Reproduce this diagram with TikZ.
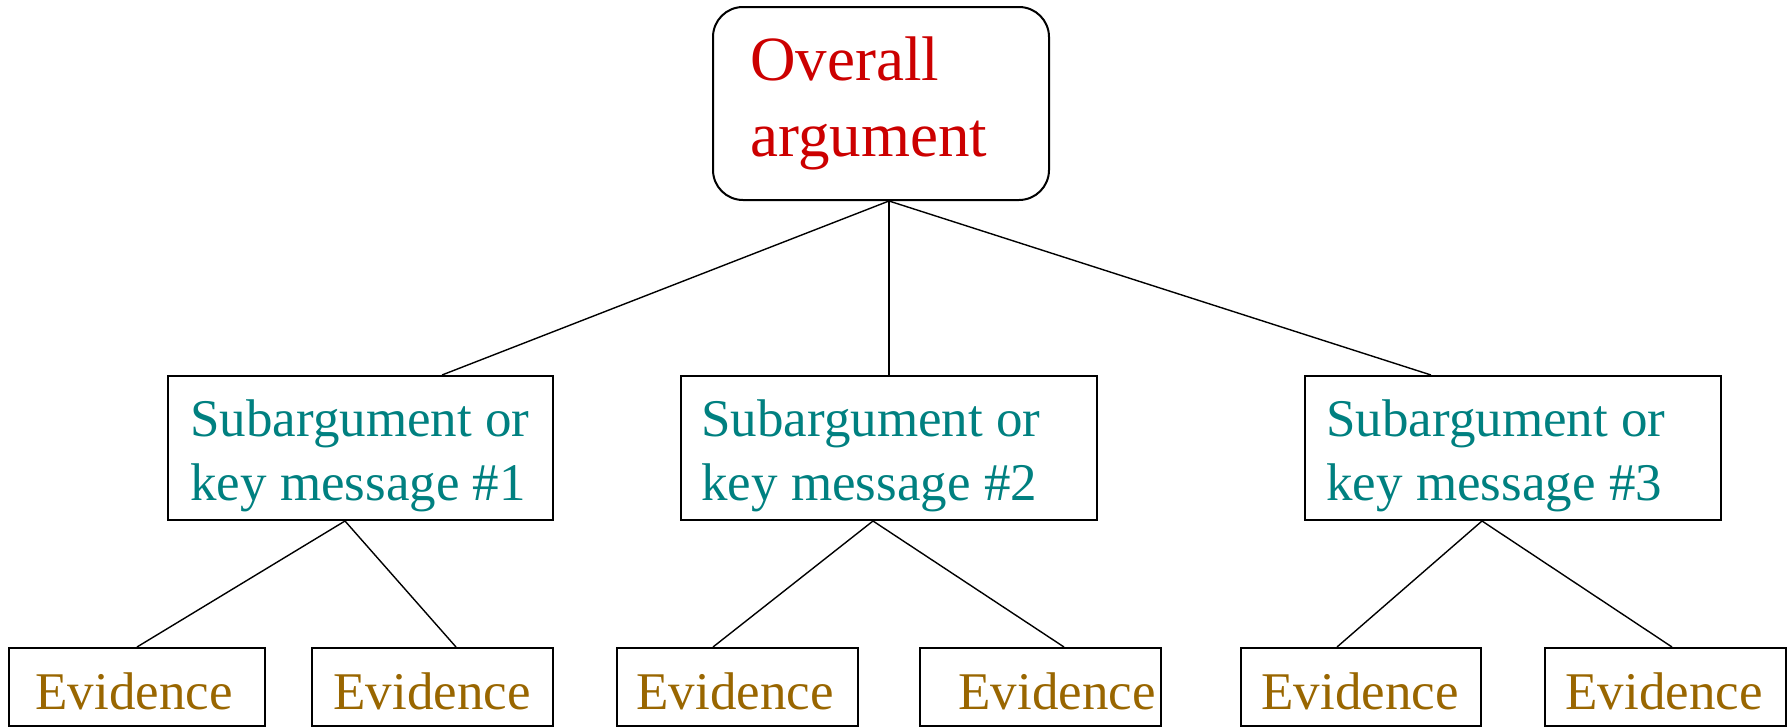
\documentclass[tikz,border=0pt]{standalone}
\usepackage{fontspec}
\setmainfont{Liberation Serif}
\definecolor{topred}{HTML}{CC0000}
\definecolor{subteal}{HTML}{008080}
\definecolor{evbrown}{HTML}{996600}
\begin{document}
\begin{tikzpicture}[x=0.5pt,y=-0.5pt,
  box/.style={draw=black,line width=1pt,minimum height=72pt,inner sep=0pt,anchor=center},
  topbox/.style={box,rounded corners=15pt,minimum width=168pt,minimum height=96.5pt},
  evbox/.style={draw=black,line width=1pt,minimum height=39pt,inner sep=0pt,anchor=center},
  link/.style={line width=0.7pt,black},
  toptext/.style={text=topred,font=\fontsize{31.5}{38}\selectfont,align=left,anchor=base west,inner sep=0pt},
  subtext/.style={text=subteal,font=\fontsize{26.5}{32}\selectfont,align=left,anchor=base west,inner sep=0pt},
  evtext/.style={text=evbrown,font=\fontsize{26.5}{32}\selectfont,anchor=base west,inner sep=0pt}
]
\useasboundingbox (0,0) rectangle (1788,728);
% boxes
\node[topbox] (top) at (881,103.5) {};
\node[box,minimum width=192.5pt] (s1) at (360.5,448) {};
\node[box,minimum width=208pt] (s2) at (889,448) {};
\node[box,minimum width=208pt] (s3) at (1513,448) {};
\node[evbox,minimum width=128pt] (e1) at (137,687) {};
\node[evbox,minimum width=120.5pt] (e2) at (432.5,687) {};
\node[evbox,minimum width=120.5pt] (e3) at (737.5,687) {};
\node[evbox,minimum width=120.5pt] (e4) at (1040.5,687) {};
\node[evbox,minimum width=120pt] (e5) at (1361,687) {};
\node[evbox,minimum width=120.5pt] (e6) at (1665.5,687) {};
% texts (anchored at the baseline of their last line)
\node[toptext] (toptxt) at (750,156) {Overall\\argument};
\node[subtext] (s1txt) at (190,500) {Subargument or\\key message \#1};
\node[subtext] (s2txt) at (701,500) {Subargument or\\key message \#2};
\node[subtext] (s3txt) at (1326,500) {Subargument or\\key message \#3};
\node[evtext] (e1txt) at (35,709) {Evidence};
\node[evtext] (e2txt) at (333,709) {Evidence};
\node[evtext] (e3txt) at (636,709) {Evidence};
\node[evtext] (e4txt) at (958,709) {Evidence};
\node[evtext] (e5txt) at (1261,709) {Evidence};
\node[evtext] (e6txt) at (1565,709) {Evidence};
% connectors
\draw[link] ([shift={(8,0)}]top.south) -- ([shift={(275,0)}]s1.north west);
\draw[link] ([shift={(8,0)}]top.south) -- (s2.north);
\draw[link] ([shift={(8,0)}]top.south) -- ([shift={(127,0)}]s3.north west);
\draw[link] ([shift={(-15.5,0)}]s1.south) -- (e1.north);
\draw[link] ([shift={(-15.5,0)}]s1.south) -- ([shift={(145,0)}]e2.north west);
\draw[link] ([shift={(-16,0)}]s2.south) -- ([shift={(97,0)}]e3.north west);
\draw[link] ([shift={(-16,0)}]s2.south) -- ([shift={(145,0)}]e4.north west);
\draw[link] ([shift={(-31,0)}]s3.south) -- ([shift={(97,0)}]e5.north west);
\draw[link] ([shift={(-31,0)}]s3.south) -- ([shift={(128,0)}]e6.north west);
\end{tikzpicture}
\end{document}
